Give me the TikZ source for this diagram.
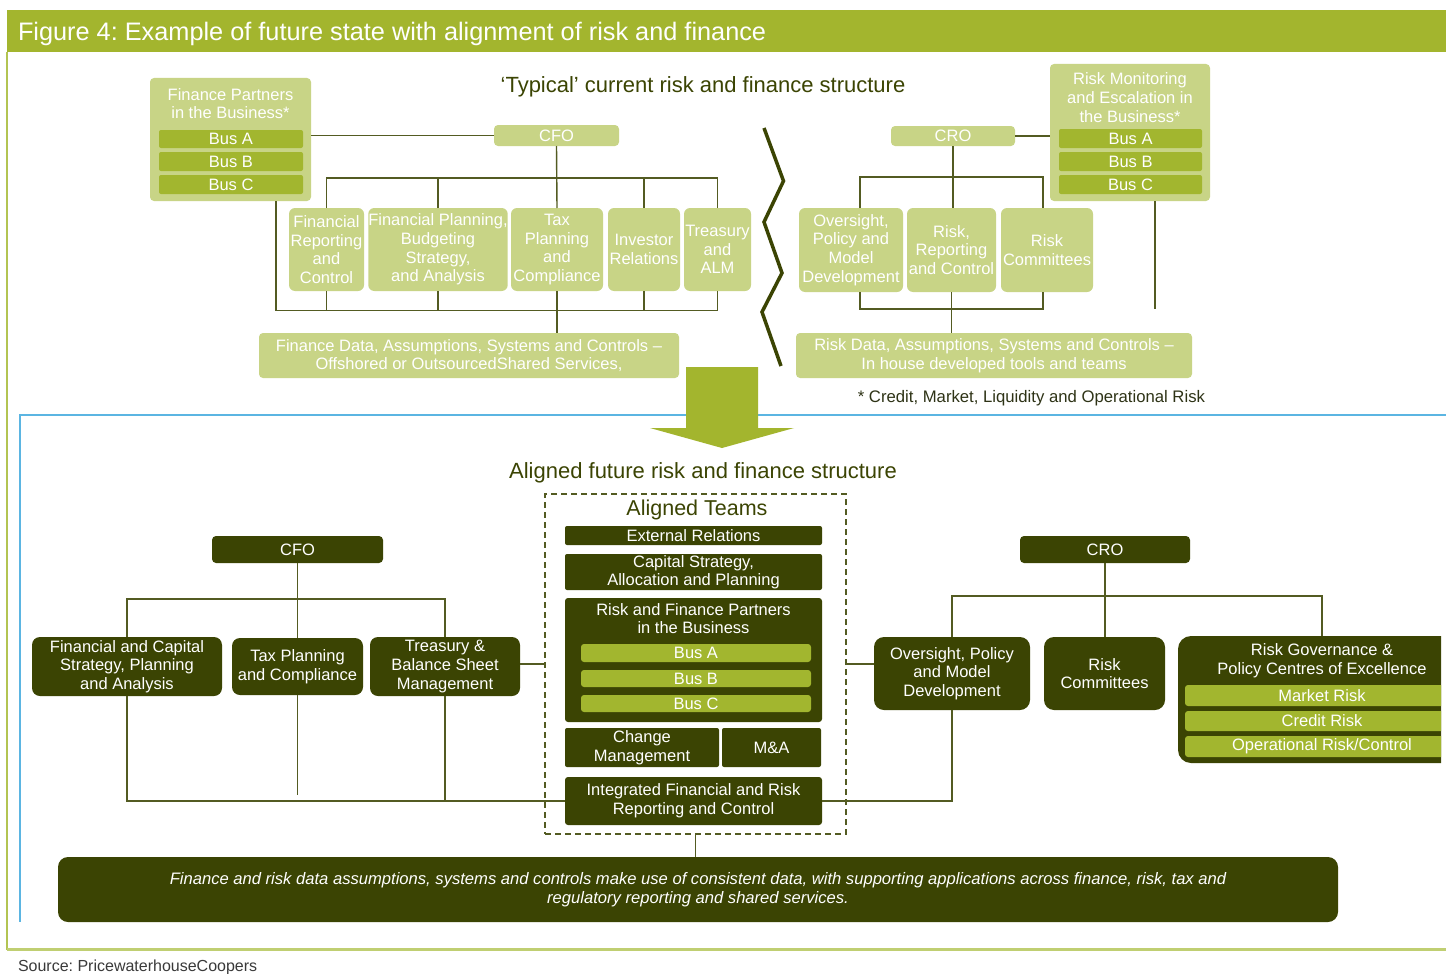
\documentclass[tikz,border=0pt]{standalone}
\usepackage{fontspec}
\setmainfont{Liberation Sans}
\frenchspacing
\newcommand\myfs[2]{\fontsize{#1}{#2}\selectfont}
\definecolor{lightg}{HTML}{C8D486}
\definecolor{busg}{HTML}{A2B62F}
\definecolor{titleg}{HTML}{A3B52E}
\definecolor{dark}{HTML}{3B4403}
\definecolor{linec}{HTML}{535B22}
\definecolor{blueln}{HTML}{5BB5E2}
\definecolor{frameg}{HTML}{B3C452}
\definecolor{frameg2}{HTML}{C0CF72}
\definecolor{txtdark}{HTML}{3B4403}
\definecolor{footc}{HTML}{2E3316}
\definecolor{srcc}{HTML}{3A3A3A}
\begin{document}
\begin{tikzpicture}[x=1pt,y=-1pt,
  every node/.style={inner sep=0pt, outer sep=0pt, align=center, text=white, font=\myfs{16.5}{18.7}},
  lg/.style={fill=lightg, rounded corners=4pt},
  bus/.style={fill=busg, rounded corners=2pt},
  dk/.style={fill=dark, rounded corners=6pt},
  ln/.style={draw=linec, line width=1.4pt},
  sz/.style 2 args={minimum width=#1pt, minimum height=#2pt}]
\useasboundingbox (0,0) rectangle (1446,974);
\fill[white] (0,0) rectangle (1446,974);
% title bar and frame
\fill[titleg] (7,10) rectangle (1446,52);
\node[anchor=west, font=\myfs{25.3}{29}] (title) at (18,33.5) {Figure 4: Example of future state with alignment of risk and finance};
\draw[frameg, line width=2pt] (7,52) -- (7,950);
\draw[frameg2, line width=3pt] (7,949.5) -- (1446,949.5);
\draw[blueln, line width=1.5pt] (1446,415) -- (20,415) -- (20,922);

% ---------------- top section
\node[text=txtdark, font=\myfs{22}{26}] (h1) at (703,86.5) {‘Typical’ current risk and finance structure};

\node[lg, sz={161}{123}] (fp) at (230.5,139.5) {};
\node (fpt) at (230.5,103.5) {Finance Partners\\in the Business*};
\node[bus, sz={144}{18}] (fpa) at (231,139) {Bus A};
\node[bus, sz={144}{19}] (fpb) at (231,161.5) {Bus B};
\node[bus, sz={144}{19}] (fpc) at (231,184.5) {Bus C};

\node[lg, sz={125}{21}] (cfo1) at (556.5,135.5) {CFO};
\node[lg, rounded corners=6pt, sz={75}{83}] (fr) at (326.5,249.5) {Financial\\Reporting\\and\\Control};
\node[lg, rounded corners=6pt, sz={138}{83}] (finplan) at (438,249.5) {Financial Planning,\\Budgeting\\Strategy,\\and Analysis};
\node[lg, rounded corners=6pt, sz={92}{83}] (tax1) at (557,249.5) {Tax\\Planning\\and\\Compliance};
\node[lg, rounded corners=6pt, sz={72}{83}] (inv) at (644,249.5) {Investor\\Relations};
\node[lg, rounded corners=6pt, sz={67}{83}] (tre1) at (717.5,249.5) {Treasury\\and\\ALM};
\node[lg, sz={420}{45}] (fd) at (469,355.5) {Finance Data, Assumptions, Systems and Controls –\\Offshored or OutsourcedShared Services,};

\coordinate (tb) at (556.5,178);
\coordinate (bb) at (556.5,310.5);
\coordinate (fpd) at ([xshift=-35pt]fp.south east);
\draw[ln] (fp.east |- cfo1.west) -- (cfo1.west);
\draw[ln] (cfo1.south) -- (tax1.north);
\draw[ln] (fr.north) -- (fr.north |- tb) -- (tre1.north |- tb) -- (tre1.north);
\draw[ln] (finplan.north) -- (finplan.north |- tb);
\draw[ln] (inv.north) -- (inv.north |- tb);
\draw[ln] (fpd) -- (fpd |- bb) -- (tre1.south |- bb) -- (tre1.south);
\draw[ln] (fr.south) -- (fr.south |- bb);
\draw[ln] (finplan.south) -- (finplan.south |- bb);
\draw[ln] (inv.south) -- (inv.south |- bb);
\draw[ln] (tax1.south) -- (tax1.south |- fd.north);

% zigzag
\draw[dark, line width=3.5pt, line join=miter] (764,128) -- (783.5,181) -- (764,222) -- (782,273) -- (762,312) -- (781,366);

% right top
\node[lg, sz={124}{20}] (cro1) at (953,136) {CRO};
\node[lg, sz={160}{137}] (rm) at (1130,132.5) {};
\node (rmt) at (1130,97.5) {Risk Monitoring\\and Escalation in\\the Business*};
\node[bus, sz={143}{19}] (rma) at (1130.5,138.5) {Bus A};
\node[bus, sz={143}{19}] (rmb) at (1130.5,161.5) {Bus B};
\node[bus, sz={143}{19}] (rmc) at (1130.5,184.5) {Bus C};
\node[lg, rounded corners=6pt, sz={104}{84}] (ov1) at (851,250) {Oversight,\\Policy and\\Model\\Development};
\node[lg, rounded corners=6pt, sz={89}{84}] (rr) at (951.5,250) {Risk,\\Reporting\\and Control};
\node[lg, rounded corners=6pt, sz={92}{84}] (rc1) at (1047,250) {Risk\\Committees};
\node[lg, sz={396}{45}] (rd) at (994,355.5) {Risk Data, Assumptions, Systems and Controls –\\In house developed tools and teams};
\node[anchor=east, text=footc, font=\myfs{16.7}{19}] (fn) at (1205,398) {* Credit, Market, Liquidity and Operational Risk};

\coordinate (tb2) at (953,177);
\coordinate (bb2) at (953,309);
\coordinate (ovx) at ([xshift=9pt]ov1.north);
\coordinate (ovy) at ([xshift=9pt]ov1.south);
\coordinate (rcx) at ([xshift=-4pt]rc1.north);
\coordinate (rcy) at ([xshift=-4pt]rc1.south);
\coordinate (rmd) at ([xshift=25pt]rm.south);
\draw[ln] (cro1.east) -- (cro1.east -| rm.west);
\draw[ln] (cro1.south) -- (cro1.south |- rr.north);
\draw[ln] (ovx) -- (ovx |- tb2) -- (rcx |- tb2) -- (rcx);
\draw[ln] (ovy) -- (ovy |- bb2) -- (rcy |- bb2) -- (rcy);
\draw[ln] (rr.south) -- (rr.south |- rd.north);
\draw[ln] (rmd) -- (rmd |- bb2);

% big arrow
\fill[titleg] (686,367) -- (758,367) -- (758,428) -- (794,428) -- (722,448) -- (650,428) -- (686,428) -- cycle;

% ---------------- bottom section
\node[text=txtdark, font=\myfs{22}{26}] (h2) at (703,472.5) {Aligned future risk and finance structure};

\node[draw=linec, line width=1.3pt, dash pattern=on 6pt off 4pt, sz={301}{340}] (dbox) at (695.5,664) {};
\node[text=txtdark, font=\myfs{21.5}{25}] (at) at (697,510) {Aligned Teams};
\node[dk, rounded corners=2pt, sz={257}{19}] (er) at (693.5,535.5) {External Relations};
\node[dk, rounded corners=2pt, sz={257}{36}, font=\myfs{16.5}{18}] (cs) at (693.5,572) {Capital Strategy,\\Allocation and Planning};
\node[dk, rounded corners=3pt, sz={257}{124}] (rfp) at (693.5,660) {};
\node (rfpt) at (693.5,618.5) {Risk and Finance Partners\\in the Business};
\node[bus, rounded corners=3pt, sz={230}{18}] (rfa) at (696,653) {Bus A};
\node[bus, rounded corners=3pt, sz={230}{17}] (rfb) at (696,678.5) {Bus B};
\node[bus, rounded corners=3pt, sz={230}{17}] (rfc) at (696,703.5) {Bus C};
\node[dk, rounded corners=2pt, sz={154}{39}] (cm) at (642,747.5) {Change\\Management};
\node[dk, rounded corners=2pt, sz={99}{39}] (ma) at (771.5,747.5) {M\&A};
\node[dk, rounded corners=3pt, sz={257}{48}] (ifr) at (693.5,801) {Integrated Financial and Risk\\Reporting and Control};

% left CFO
\node[dk, rounded corners=4pt, sz={171}{27}] (cfo2) at (297.5,549.5) {CFO};
\node[dk, rounded corners=8pt, sz={190}{59}] (fcs) at (127,666.5) {Financial and Capital\\Strategy, Planning\\and Analysis};
\node[dk, rounded corners=8pt, sz={131}{57}] (tp2) at (297.5,666.5) {Tax Planning\\and Compliance};
\node[dk, rounded corners=8pt, sz={150}{59}] (tbs) at (445,666.5) {Treasury \&\\Balance Sheet\\Management};

\coordinate (bar3) at (297.5,599);
\draw[ln] (cfo2.south) -- (tp2.north);
\draw[ln] (fcs.north) -- (fcs.north |- bar3) -- (tbs.north |- bar3) -- (tbs.north);
\draw[ln] (fcs.south) -- (fcs.south |- ifr.west) -- (ifr.west);
\draw[ln] (tbs.south) -- (tbs.south |- ifr.west);
\draw[ln] (tp2.south) -- ++(0,100);
\draw[ln] (dbox.west) -- (dbox.west -| tbs.east);

% right CRO
\node[dk, rounded corners=4pt, sz={170}{27}] (cro2) at (1105,549.5) {CRO};
\node[dk, rounded corners=10pt, sz={156}{73}] (ov2) at (952,673.5) {Oversight, Policy\\and Model\\Development};
\node[dk, rounded corners=10pt, sz={121}{73}] (rc2) at (1104.5,673.5) {Risk\\Committees};
\begin{scope}
\clip (1170,600) rectangle (1441,780);
\node[dk, rounded corners=13pt, sz={288}{127}] (rg) at (1322,699.5) {};
\node[bus, rounded corners=3pt, sz={274}{21}] (rgm) at (1322,695.5) {Market Risk};
\node[bus, rounded corners=3pt, sz={274}{20}] (rgc) at (1322,721) {Credit Risk};
\node[bus, rounded corners=3pt, sz={274}{21}] (rgo) at (1322,746.5) {Operational Risk/Control};
\end{scope}
\node (rgt) at (1322,661) {Risk Governance \&\\Policy Centres of Excellence};

\coordinate (bar4) at (1105,596);
\draw[ln] (cro2.south) -- (cro2.south |- rc2.north);
\draw[ln] (ov2.north) -- (ov2.north |- bar4) -- (rg.north |- bar4) -- (rg.north);
\draw[ln] (ov2.south) -- (ov2.south |- ifr.east) -- (ifr.east);
\draw[ln] (dbox.east) -- (dbox.east -| ov2.west);

% banner
\node[dk, rounded corners=10pt, sz={1280}{65}, font=\myfs{16.6}{19}\itshape] (banner) at (698,889.5) {Finance and risk data assumptions, systems and controls make use of consistent data, with supporting applications across finance, risk, tax and\\regulatory reporting and shared services.};
\draw[ln] (dbox.south) -- (dbox.south |- banner.north);

% source
\node[anchor=west, text=srcc, font=\myfs{16}{18}] (src) at (18,967) {Source: PricewaterhouseCoopers};
\end{tikzpicture}
\end{document}
